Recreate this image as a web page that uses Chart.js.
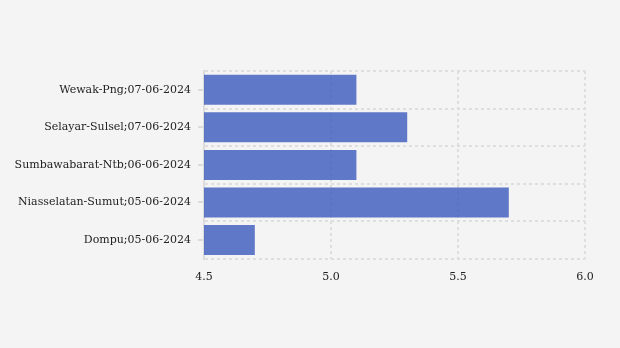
<!DOCTYPE html>
<html>
<head>
<meta charset="utf-8">
<script src="https://cdn.jsdelivr.net/npm/chart.js@4"></script>
<style>
  html, body { margin: 0; padding: 0; background: #f4f4f4; }
  #wrap { width: 620px; height: 348px; }
</style>
</head>
<body>
<div id="wrap"><canvas id="magChart"></canvas></div>
<script>
// data
const places = [
    'Wewak-Png;07-06-2024',
    'Selayar-Sulsel;07-06-2024',
    'Sumbawabarat-Ntb;06-06-2024',
    'Niasselatan-Sumut;05-06-2024',
    'Dompu;05-06-2024'
];
const magnitudes = [5.1, 5.3, 5.1, 5.7, 4.7];
const xTicks = [4.5, 5.0, 5.5, 6.0];

const labelFont = { family: '"DejaVu Serif", serif', size: 11 };

// small tick marks next to each category label
const yTickMarks = {
    id: 'yTickMarks',
    afterDraw(chart) {
        const y = chart.scales.y;
        const ctx = chart.ctx;
        ctx.save();
        ctx.strokeStyle = '#dcdcdc';
        ctx.lineWidth = 2;
        ctx.setLineDash([]);
        places.forEach((p, i) => {
            const py = Math.round(y.getPixelForTick(i));
            ctx.beginPath();
            ctx.moveTo(y.right - 6, py);
            ctx.lineTo(y.right - 1, py);
            ctx.stroke();
        });
        ctx.restore();
    }
};

const config = {
    type: 'bar',
    data: {
        labels: places,
        datasets: [{
            data: magnitudes,
            backgroundColor: 'rgba(57, 89, 189, 0.8)',
            borderWidth: 0,
            barPercentage: 0.8,
            categoryPercentage: 1.0
        }]
    },
    options: {
        indexAxis: 'y',
        responsive: true,
        maintainAspectRatio: false,
        animation: false,
        layout: { padding: { top: 71, right: 35, bottom: 52, left: 0 } },
        plugins: {
            legend: { display: false },
            tooltip: { enabled: false }
        },
        scales: {
            x: {
                min: 4.5,
                max: 6.0,
                afterBuildTicks(scale) {
                    scale.ticks = xTicks.map(v => ({ value: v }));
                },
                ticks: {
                    font: labelFont,
                    color: '#222',
                    padding: 12,
                    callback: v => Number(v).toFixed(1)
                },
                grid: { color: '#dedede', lineWidth: 2, drawTicks: false },
                border: { display: false, dash: [3, 3] }
            },
            y: {
                afterFit(scale) { scale.width = 204; },
                ticks: { font: labelFont, color: '#222', padding: 13 },
                grid: { color: '#dedede', lineWidth: 2, offset: true, drawTicks: false },
                border: { display: true, color: '#dcdcdc', width: 2, dash: [3, 3] }
            }
        }
    },
    plugins: [yTickMarks]
};

new Chart(document.getElementById('magChart'), config);
</script>
</body>
</html>
